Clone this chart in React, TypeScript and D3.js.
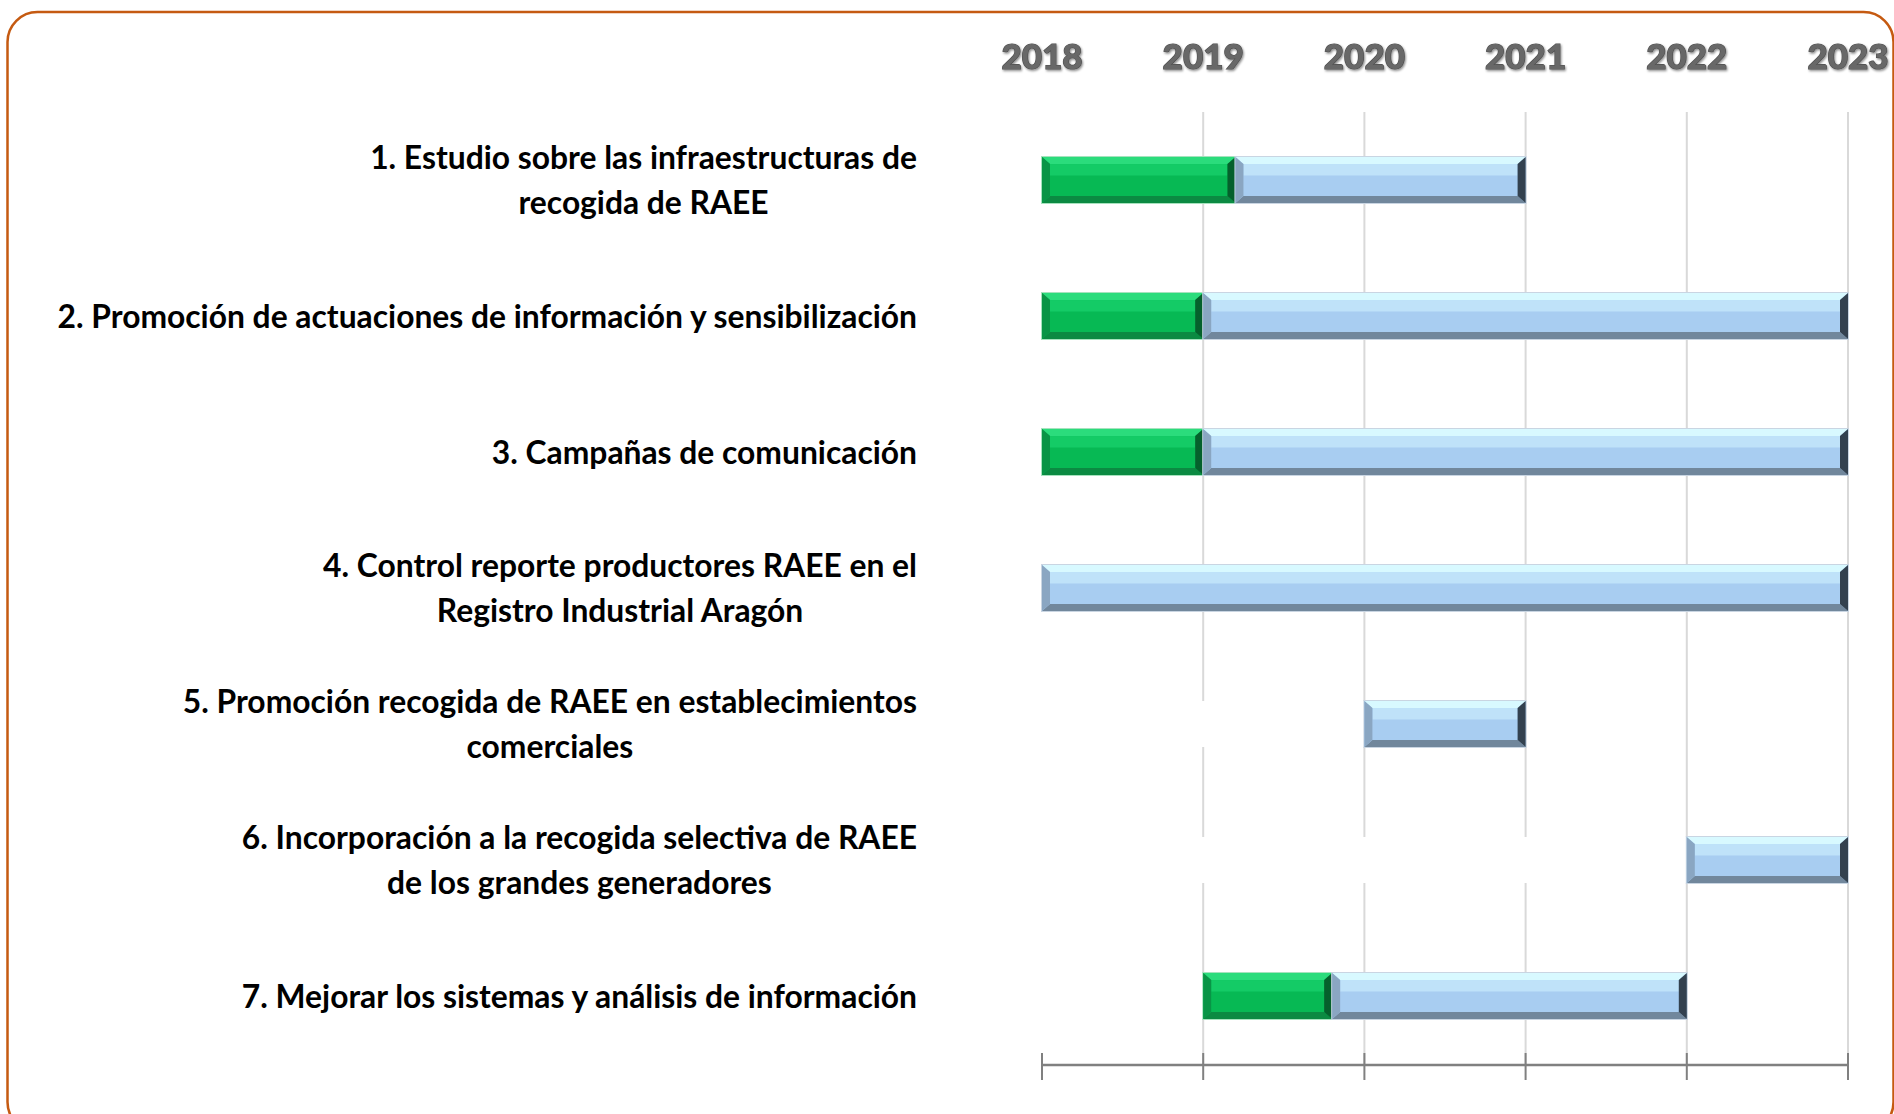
import React, { useEffect, useRef } from "react";
import * as d3 from "d3";

const years = [2018, 2019, 2020, 2021, 2022, 2023];
const taskLabels: string[][] = [
  ["1. Estudio sobre las infraestructuras de", "recogida de RAEE"],
  ["2. Promoción de actuaciones de información y sensibilización"],
  ["3. Campañas de comunicación"],
  ["4. Control reporte productores RAEE en el", "Registro Industrial Aragón"],
  ["5. Promoción recogida de RAEE en establecimientos", "comerciales"],
  ["6. Incorporación a la recogida selectiva de RAEE", "de los grandes generadores"],
  ["7. Mejorar los sistemas y análisis de información"],
];
// years from 2018 before the task starts (invisible series)
const offsetYears = [0, 0, 0, 0, 2, 4, 1];
// completed part (green)
const doneYears = [1.2, 1, 1, 0, 0, 0, 0.8];
// pending part (blue)
const pendingYears = [1.8, 4, 4, 5, 1, 1, 2.2];

const W = 1894;
const H = 1114;

type Pal = { face: string; faceTop: string; top: string; bottom: string; left: string; right: string; edge: string };
const green: Pal = { face: "#07b954", faceTop: "#14cb66", top: "#2bdc7c", bottom: "#0b8a42", left: "#099446", right: "#05602c", edge: "#a5e2bd" };
const blue: Pal = { face: "#a8cdf1", faceTop: "#bfe2f9", top: "#d8f9ff", bottom: "#71879c", left: "#8aa6c2", right: "#33414f", edge: "#c9d5e2" };

export default function App() {
  const ref = useRef<SVGSVGElement | null>(null);

  useEffect(() => {
    const svg = d3.select(ref.current);
    svg.selectAll("*").remove();

    const defs = svg.append("defs");
    const f = defs.append("filter").attr("id", "yshadow").attr("x", "-20%").attr("y", "-20%").attr("width", "140%").attr("height", "140%");
    f.append("feDropShadow").attr("dx", 1).attr("dy", 1.5).attr("stdDeviation", 1.2).attr("flood-color", "#000").attr("flood-opacity", 0.45);

    const x = d3.scaleLinear().domain([2018, 2023]).range([1042, 1848]);
    const names = taskLabels.map((_, i) => String(i));
    const y = d3.scaleBand().domain(names).range([112, 1064]).paddingInner(0.662).paddingOuter(0.331);
    const axisY = 1065;

    // border
    svg.append("rect").attr("x", 7.5).attr("y", 12).attr("width", 1886).attr("height", 1120)
      .attr("rx", 30).attr("ry", 30).attr("fill", "#fff").attr("stroke", "#c55a11").attr("stroke-width", 2.5);

    // gridlines
    svg.append("g").selectAll("line").data(years.slice(1)).join("line")
      .attr("x1", (d) => x(d)).attr("x2", (d) => x(d))
      .attr("y1", 112).attr("y2", axisY)
      .attr("stroke", "#d9d9d9").attr("stroke-width", 2);

    // year labels
    svg.append("g").selectAll("text").data(years).join("text")
      .attr("x", (d) => x(d)).attr("y", 69)
      .attr("text-anchor", "middle")
      .attr("font-family", "Lato, 'Noto Sans', sans-serif").attr("font-weight", 900)
      .attr("font-size", 35)
      .attr("fill", "#676767").attr("stroke", "#4f4f4f").attr("stroke-width", 1.2)
      .attr("paint-order", "stroke")
      .attr("filter", "url(#yshadow)")
      .text((d) => String(d));

    // bars
    const bars = svg.append("g");
    const drawSeg = (x0: number, x1: number, y0: number, y1: number, p: Pal) => {
      const g = bars.append("g");
      const w = x1 - x0;
      const b = Math.min(8, w / 2);
      const bv = 7;
      g.append("rect").attr("x", x0 - 1).attr("y", y0 - 1).attr("width", w + 2).attr("height", y1 - y0 + 2).attr("fill", p.edge);
      g.append("rect").attr("x", x0).attr("y", y0).attr("width", w).attr("height", y1 - y0).attr("fill", p.face);
      g.append("rect").attr("x", x0 + b).attr("y", y0 + bv).attr("width", Math.max(0, w - 2 * b)).attr("height", (y1 - y0) * 0.25).attr("fill", p.faceTop);
      const poly = (pts: number[][], fill: string) =>
        g.append("polygon").attr("points", pts.map((q) => q.join(",")).join(" ")).attr("fill", fill);
      poly([[x0, y0], [x1, y0], [x1 - b, y0 + bv], [x0 + b, y0 + bv]], p.top);
      poly([[x0, y1], [x1, y1], [x1 - b, y1 - bv], [x0 + b, y1 - bv]], p.bottom);
      poly([[x0, y0], [x0 + b, y0 + bv], [x0 + b, y1 - bv], [x0, y1]], p.left);
      poly([[x1, y0], [x1 - b, y0 + bv], [x1 - b, y1 - bv], [x1, y1]], p.right);
    };

    names.forEach((n, i) => {
      const y0 = y(n)!;
      const y1 = y0 + y.bandwidth();
      const s0 = 2018;
      const s1 = s0 + offsetYears[i];
      const s2 = s1 + doneYears[i];
      const s3 = s2 + pendingYears[i];
      if (offsetYears[i] > 0) {
        bars.append("rect").attr("x", x(s0)).attr("y", y0).attr("width", x(s1) - x(s0)).attr("height", y1 - y0).attr("fill", "#fff");
      }
      if (doneYears[i] > 0) drawSeg(x(s1), x(s2), y0, y1, green);
      if (pendingYears[i] > 0) drawSeg(x(s2), x(s3), y0, y1, blue);
    });

    // bottom axis
    const ax = svg.append("g");
    ax.append("line").attr("x1", x(2018)).attr("x2", x(2023)).attr("y1", axisY).attr("y2", axisY)
      .attr("stroke", "#808080").attr("stroke-width", 2.5);
    ax.selectAll("line.t").data(years).join("line").attr("class", "t")
      .attr("x1", (d) => x(d)).attr("x2", (d) => x(d))
      .attr("y1", 1053).attr("y2", 1080).attr("stroke", "#808080").attr("stroke-width", 2);

    // task labels
    const rightEdge = 917;
    const lineH = 44.7;
    const lg = svg.append("g");
    taskLabels.forEach((lines, i) => {
      const cy = y(names[i])! + y.bandwidth() / 2;
      const t = lg.append("text")
        .attr("font-family", "Lato, 'Noto Sans', sans-serif").attr("font-weight", 700)
        .attr("font-size", 31.8).attr("fill", "#000").attr("text-anchor", "middle");
      const spans = lines.map((l, k) =>
        t.append("tspan").attr("y", cy - ((lines.length - 1) * lineH) / 2 + k * lineH + 11.5).text(l)
      );
      let maxW = 0;
      spans.forEach((s) => {
        const node = s.node() as SVGTSpanElement;
        maxW = Math.max(maxW, node.getComputedTextLength());
      });
      const cx = rightEdge - maxW / 2;
      spans.forEach((s) => s.attr("x", cx));
    });
  }, []);

  return (
    <svg ref={ref} width={W} height={H} style={{ position: "absolute", left: 0, top: 0, background: "#fff" }} />
  );
}
